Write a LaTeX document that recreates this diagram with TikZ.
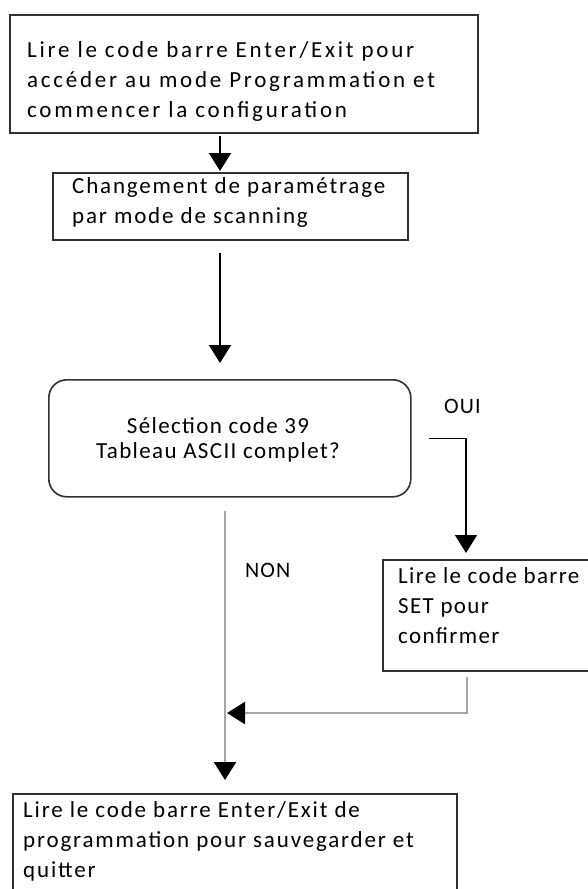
\documentclass[tikz,border=0pt]{standalone}
\usepackage{fontspec}
\setmainfont{Carlito}
\usetikzlibrary{arrows.meta}
\definecolor{boxcol}{HTML}{303030}
\definecolor{linegray}{HTML}{A6A6A6}
\begin{document}
\begin{tikzpicture}[x=1pt,y=-1pt,
  box/.style={draw=boxcol,line width=1.6pt,inner sep=0pt,anchor=north west},
  txt/.style={anchor=north west,inner sep=0pt,font=\fontsize{23}{30}\selectfont\addfontfeature{LetterSpace=8},align=left},
  settxt/.style={txt,font=\fontsize{23}{30}\selectfont\addfontfeature{LetterSpace=6}},
  widetxt/.style={txt,font=\fontsize{23}{30}\selectfont\addfontfeature{LetterSpace=12}},
  ctxt/.style={anchor=north,inner sep=0pt,font=\fontsize{23}{25}\selectfont\addfontfeature{LetterSpace=6},align=center},
  lbl/.style={anchor=base west,inner sep=0pt,font=\fontsize{22}{25}\selectfont\addfontfeature{LetterSpace=5}},
  blk/.style={draw=black,line width=1.5pt,-{Triangle[length=18pt,width=22pt]}},
  gry/.style={draw=linegray,line width=2.4pt,-{Triangle[length=18pt,width=22pt,color=black]}},
]
\useasboundingbox (0,0) rectangle (588,889);
\clip (0,0) rectangle (588,889);
\fill[white] (0,0) rectangle (588,889);

% boxes
\node[box,minimum width=468pt,minimum height=118pt] (b1) at (9,14) {};
\node[box,minimum width=355pt,minimum height=67pt] (b2) at (52,172) {};
\node[box,rounded corners=18pt,minimum width=362pt,minimum height=117pt] (dec) at (48,379) {};
\node[box,minimum width=230pt,minimum height=111pt] (set) at (382,559) {};
\node[box,minimum width=444pt,minimum height=120pt] (fin) at (12,793) {};

% texts
\node[widetxt] (t1) at (27,36) {\strut Lire le code barre Enter/Exit pour\\accéder au mode Programmation et\\commencer la configuration};
\node[txt] (t2) at (72,172) {\strut Changement de paramétrage\\par mode de scanning};
\node[ctxt] (t3) at (218,415.5) {\strut Sélection code 39\\Tableau ASCII complet?};
\node[settxt] (t4) at (398,562) {\strut Lire le code barre\\SET pour\\confirmer};
\node[txt] (t5) at (23,796) {\strut Lire le code barre Enter/Exit de\\programmation pour sauvegarder et\\quitter};
\node[lbl] (oui) at (444,413) {OUI};
\node[lbl] (non) at (245,577) {NON};

% connectors
\coordinate (xa) at (220,0);
\coordinate (xn) at (225,0);
\coordinate (xs) at (466,0);
\coordinate (xr) at (467,0);
\coordinate (merge) at (225,713);
\coordinate (split) at (225,663);

\draw[blk,shorten <=2pt,shorten >=1pt] (b1.south -| xa) -- (b2.north -| xa);
\draw[blk,shorten <=12pt,shorten >=16pt] (b2.south -| xa) -- (dec.north -| xa);
\draw[blk,shorten <=17pt,shorten >=6pt] (dec.east) -| (set.north -| xs);
\draw[draw=linegray,line width=1.6pt,shorten <=13pt] (dec.south -| xn) -- (split);
\draw[gry,shorten >=13pt] (split) -- (fin.north -| xn);
\draw[gry,shorten <=5pt,shorten >=2pt] (set.south -| xr) |- (merge);
\end{tikzpicture}
\end{document}
